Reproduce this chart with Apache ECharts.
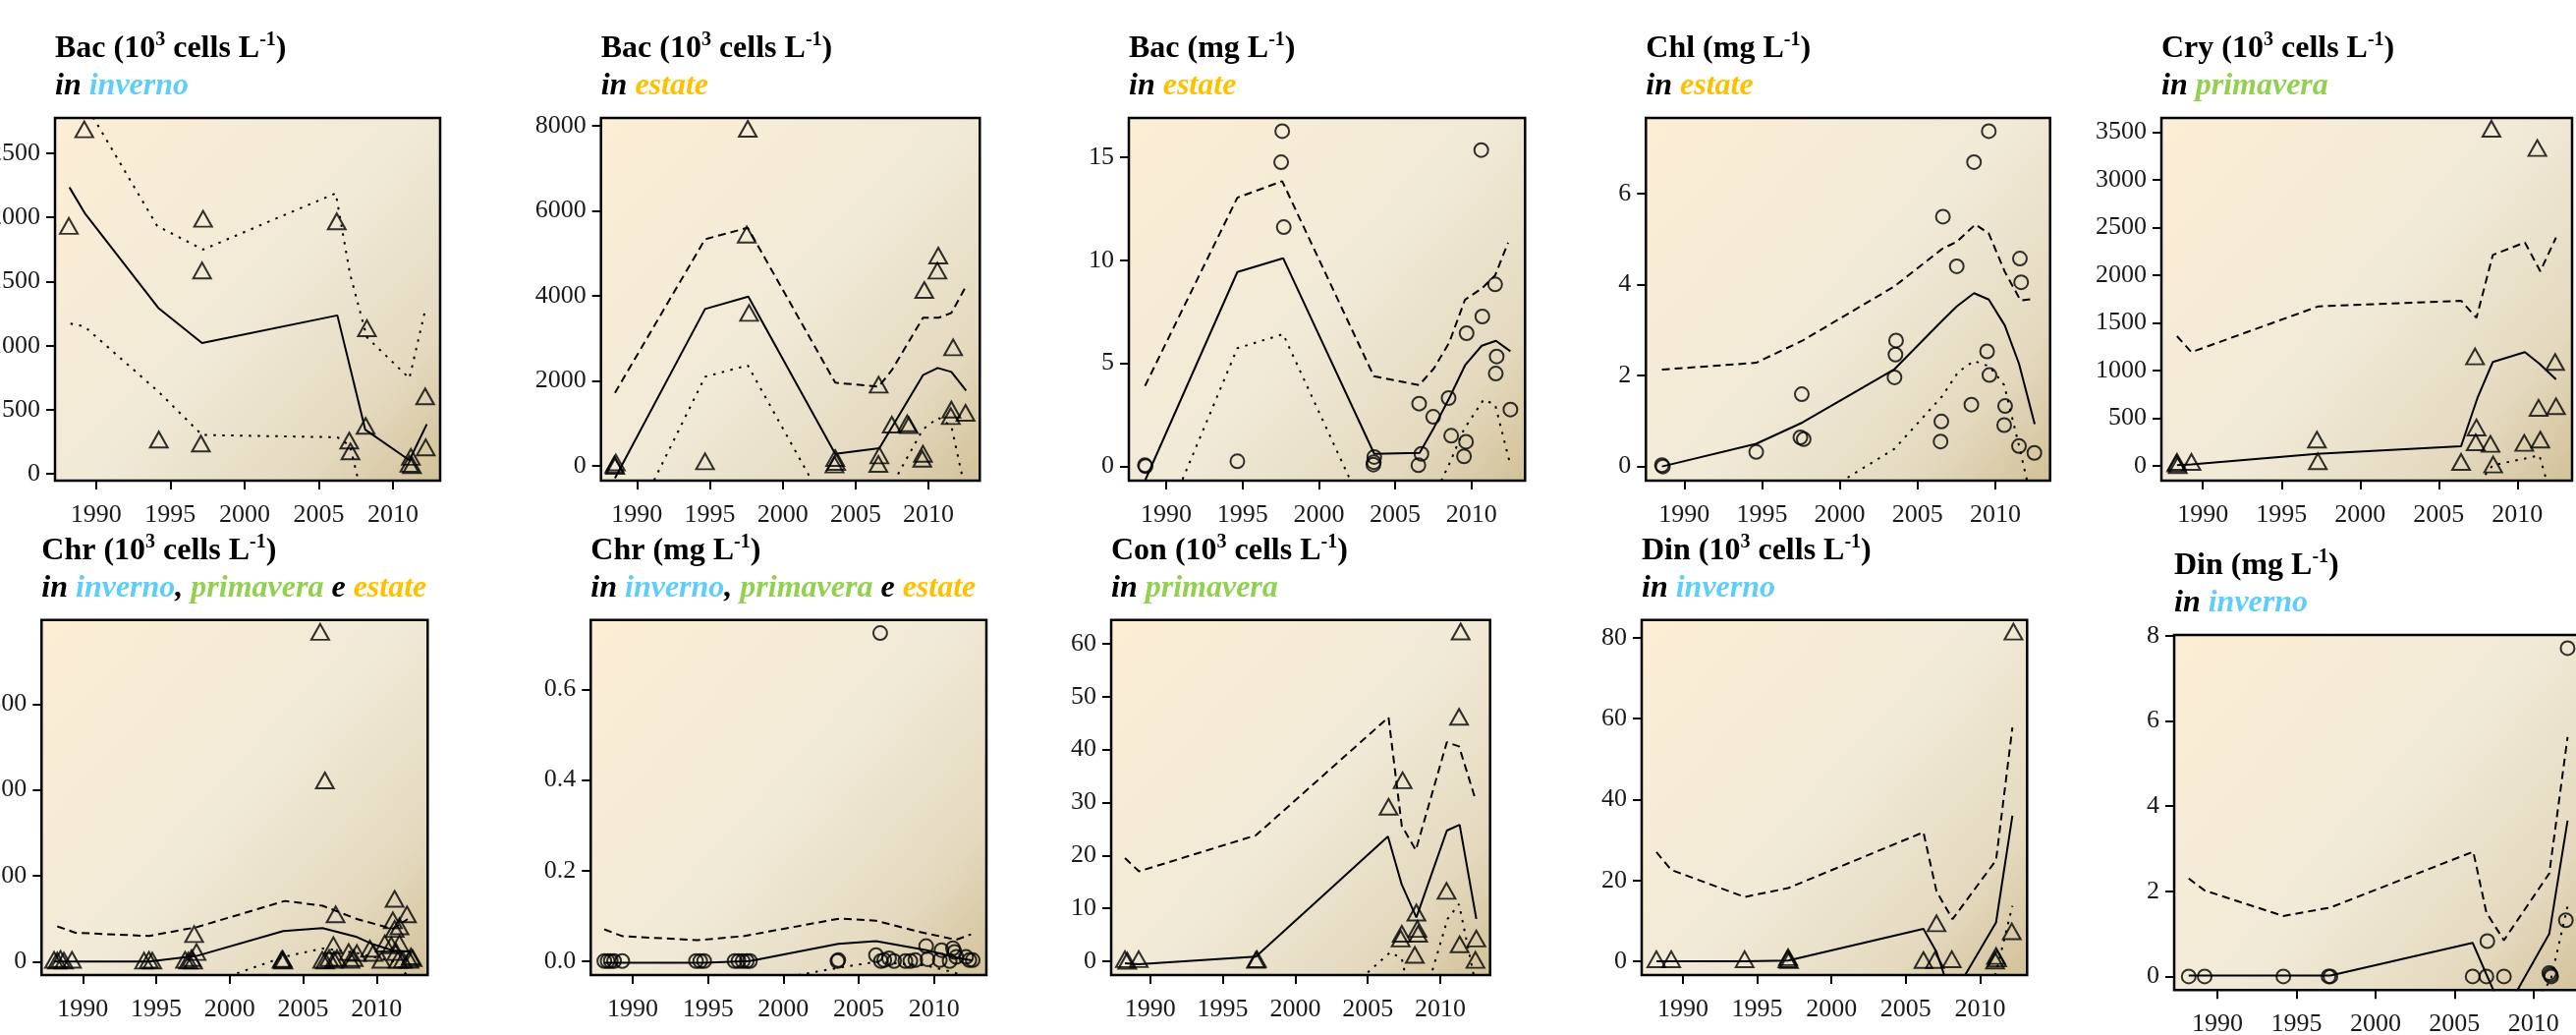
<!DOCTYPE html>
<html lang="it">
<head>
<meta charset="UTF-8">
<title>Serie storiche fitoplancton</title>
<script src="https://cdn.jsdelivr.net/npm/echarts@6.0.0/dist/echarts.min.js"></script>
<style>
html, body { margin: 0; padding: 0; background: #fff; }
#grafico { position: absolute; left: 0; top: 0; width: 2622px; height: 1053px; }
</style>
</head>
<body>
<div id="grafico"></div>
<script>
// anni sull'asse x (uguali per tutti i pannelli)
var anniTick = [1990, 1995, 2000, 2005, 2010];

// 1 - Bac (10^3 cells L-1) in inverno
var bacInvPunti = [[1988.17,1933],[1989.21,2686],[1994.23,268],[1997.21,1989],[1997.14,1586],[1997.06,237],[2006.21,1969],[2007.05,260],[2007.13,176],[2008.24,1136],[2008.15,375],[2011.1,79],[2011.2,133],[2011.27,69],[2012.16,605],[2012.2,207]];
var bacInvFit = [[1988.21,2234],[1989.23,2035],[1994.19,1295],[1997.14,1021],[2006.25,1236],[2008.13,345],[2011.1,107],[2012.27,388]];
var bacInvSup = [[1988.2,3150],[1989.2,2900],[1994.12,1933],[1997.21,1749],[2006.14,2188],[2007.1,1560],[2008.24,1065],[2011.1,746],[2012.2,1295]];
var bacInvInf = [[1988.28,1172],[1989.23,1149],[1994.19,643],[1997.14,304],[2006.25,286],[2007.1,220],[2008.2,-310],[2011.1,-600],[2012.2,-400]];
var bacInvTick = [0, 500, 1000, 1500, 2000, 2500];

// 2 - Bac (10^3 cells L-1) in estate
var bacEstPunti = [[1988.45,30],[1988.55,80],[1988.5,0],[1994.67,108],[1997.6,7923],[1997.53,5436],[1997.69,3596],[2003.6,185],[2003.66,92],[2003.55,31],[2006.58,1910],[2006.63,246],[2006.56,46],[2007.48,970],[2008.54,1001],[2008.65,955],[2009.71,4135],[2009.62,285],[2009.57,169],[2010.67,4943],[2010.61,4589],[2011.69,2787],[2011.57,1324],[2011.53,1170],[2012.54,1247]];
var bacEstFit = [[1988.49,-290],[1994.67,3688],[1997.64,3981],[2003.6,285],[2006.63,416],[2009.62,2133],[2010.63,2302],[2011.57,2210],[2012.58,1771]];
var bacEstSup = [[1988.49,1717],[1994.67,5328],[1997.6,5598],[2003.6,1956],[2006.58,1863],[2007.48,2248],[2009.62,3480],[2010.67,3480],[2011.57,3596],[2012.52,4189]];
var bacEstInf = [[1988.49,-2202],[1994.67,2094],[1997.6,2364],[2003.6,-1332],[2006.63,-985],[2009.62,862],[2010.67,1132],[2011.57,939],[2012.54,-600]];
var bacEstTick = [0, 2000, 4000, 6000, 8000];

// 3 - Bac (mg L-1) in estate
var bacMgPunti = [[1988.6,0.05],[1988.65,0],[1994.66,0.24],[1997.6,16.27],[1997.53,14.76],[1997.7,11.61],[2003.63,0.45],[2003.57,0.08],[2003.6,0.2],[2006.57,3.04],[2006.72,0.6],[2006.52,0.05],[2007.49,2.4],[2008.5,3.31],[2008.67,1.48],[2009.68,6.46],[2009.64,1.19],[2009.51,0.48],[2010.64,15.35],[2010.71,7.27],[2011.55,8.83],[2011.65,5.33],[2011.59,4.5],[2012.55,2.75]];
var bacMgFit = [[1988.61,-0.7],[1994.66,9.43],[1997.66,10.1],[2003.63,0.6],[2006.6,0.65],[2007.49,1.8],[2008.6,3.39],[2009.6,4.93],[2010.67,5.85],[2011.6,6.09],[2012.55,5.58]];
var bacMgSup = [[1988.61,3.9],[1994.66,13.04],[1997.6,13.84],[2003.6,4.37],[2006.57,3.94],[2007.53,4.74],[2008.54,6.0],[2009.57,8.08],[2010.69,8.64],[2011.55,9.27],[2012.4,10.86]];
var bacMgInf = [[1988.61,-5.0],[1994.66,5.73],[1997.66,6.41],[2003.63,-3.2],[2006.6,-2.93],[2008.6,0.2],[2009.51,1.8],[2010.79,3.23],[2011.55,2.99],[2012.55,0.05]];
var bacMgTick = [0, 5, 10, 15];

// 4 - Chl (mg L-1) in estate
var chlPunti = [[1988.57,0.03],[1988.63,0],[1994.63,0.32],[1997.56,1.59],[1997.47,0.64],[1997.68,0.6],[2003.62,2.77],[2003.58,2.46],[2003.52,1.96],[2006.63,5.49],[2006.53,0.99],[2006.48,0.55],[2007.52,4.4],[2008.63,6.69],[2008.46,1.36],[2009.58,7.37],[2009.47,2.53],[2009.62,2.01],[2010.63,1.33],[2010.57,0.91],[2011.58,4.57],[2011.66,4.05],[2011.52,0.45],[2012.51,0.3]];
var chlFit = [[1988.57,0],[1994.63,0.5],[1997.62,0.97],[2003.52,2.14],[2006.57,3.2],[2007.52,3.52],[2008.63,3.81],[2009.58,3.67],[2010.61,3.1],[2011.52,2.26],[2012.53,0.93]];
var chlSup = [[1988.57,2.13],[1994.63,2.28],[1997.62,2.77],[2003.52,3.96],[2006.57,4.78],[2007.52,4.94],[2008.72,5.32],[2009.58,5.12],[2010.61,4.28],[2011.62,3.65],[2012.42,3.68]];
var chlInf = [[1988.57,-2.5],[1994.63,-1.4],[1997.62,-0.85],[2003.52,0.39],[2006.57,1.54],[2007.62,2.08],[2008.63,2.32],[2009.62,2.2],[2010.57,1.79],[2011.52,0.46],[2012.5,-1.0]];
var chlTick = [0, 2, 4, 6];

// 5 - Cry (10^3 cells L-1) in primavera
var cryPunti = [[1988.31,24],[1988.4,7],[1988.35,41],[1989.27,41],[1997.25,275],[1997.31,48],[2006.42,41],[2007.31,1147],[2007.4,402],[2007.35,247],[2008.35,3534],[2008.29,230],[2008.46,14],[2010.44,240],[2011.27,3331],[2011.35,608],[2011.46,275],[2012.4,1089],[2012.46,625]];
var cryFit = [[1988.35,7],[1989.27,14],[1997.25,127],[2006.42,206],[2007.46,711],[2008.44,1089],[2010.48,1192],[2011.4,1071],[2012.46,907]];
var crySup = [[1988.35,1360],[1989.27,1192],[1997.35,1672],[2006.42,1731],[2007.4,1552],[2008.44,2211],[2010.48,2342],[2011.46,2040],[2012.46,2393]];
var cryInf = [[1988.35,-1300],[1989.27,-1250],[1997.25,-1100],[2006.42,-700],[2007.46,-200],[2008.44,7],[2010.48,76],[2011.4,110],[2012.46,-500]];
var cryTick = [0, 500, 1000, 1500, 2000, 2500, 3000, 3500];

// 6 - Chr (10^3 cells L-1) in inverno, primavera e estate
var chrPunti = [[1988.04,2],[1988.26,1],[1988.48,3],[1988.71,1],[1989.26,2],[1994.17,1],[1994.5,2],[1994.73,1],[1996.96,2],[1997.18,1],[1997.4,4],[1997.51,1],[1997.74,11],[1997.58,32],[2003.53,2],[2003.6,3],[2003.65,1],[2006.16,384],[2006.48,211],[2006.3,2],[2006.5,1],[2006.77,4],[2007.21,55],[2007.06,19],[2007.1,2],[2007.3,4],[2008.1,11],[2008.22,2],[2008.44,4],[2008.66,10],[2009.55,15],[2009.78,10],[2010.33,2],[2010.56,21],[2011.23,73],[2011.11,48],[2011.23,38],[2011.56,41],[2011.0,19],[2011.34,11],[2011.56,21],[2011.78,2],[2011.45,2],[2012.07,55],[2012.34,6],[2012.45,4],[2012.23,2]];
var chrFit = [[1988.04,0],[1994.5,0],[1997.74,6.5],[2003.65,35.5],[2006.32,39],[2008.66,28.6],[2009.78,20],[2011.11,13],[2012.34,11.5]];
var chrSup = [[1988.26,41],[1989.49,33.6],[1994.5,29.8],[1997.74,40],[2003.76,70.6],[2006.32,65],[2008.66,49.6],[2011.11,38],[2012.12,49.6]];
var chrInf = [[1988.04,-40],[1997.74,-30],[2003.76,5.7],[2006.32,15.3],[2008.66,10],[2011.11,0],[2012.34,-20]];
var chrTick = [0, 100, 200, 300];

// 7 - Chr (mg L-1) in inverno, primavera e estate
var chrMgPunti = [[1988.11,0],[1988.33,0],[1988.54,0],[1988.76,0],[1989.3,0],[1994.2,0],[1994.48,0],[1994.74,0],[1996.76,0],[1997.02,0],[1997.3,0],[1997.57,0],[1997.78,0],[2003.59,0],[2003.65,0.002],[2006.43,0.725],[2006.15,0.013],[2006.48,0],[2006.7,0.002],[2007.02,0.006],[2007.35,0],[2008.1,0],[2008.43,0],[2008.76,0.002],[2009.48,0.033],[2009.57,0.004],[2010.5,0.024],[2010.39,0.002],[2011.26,0.028],[2011.37,0.02],[2011.04,0],[2011.48,0.009],[2012.13,0.009],[2012.35,0.002],[2012.57,0.002]];
var chrMgFit = [[1988.11,-0.004],[1994.74,-0.004],[1997.78,0],[2003.65,0.038],[2006.15,0.044],[2009.52,0.024],[2011.26,0.009],[2012.57,0.001]];
var chrMgSup = [[1988.11,0.07],[1989.3,0.055],[1994.3,0.046],[1997.35,0.055],[2003.76,0.094],[2006.15,0.089],[2009.09,0.064],[2011.48,0.047],[2012.46,0.059]];
var chrMgInf = [[1988.11,-0.06],[1997.78,-0.05],[2003.65,-0.015],[2006.15,-0.002],[2009.5,-0.01],[2011.3,-0.025],[2012.57,-0.04]];
var chrMgTick = [0, 0.2, 0.4, 0.6];

// 8 - Con (10^3 cells L-1) in primavera
var conPunti = [[1988.26,0.4],[1988.42,0.1],[1989.21,0.4],[1997.29,0.25],[1997.36,0.4],[2006.43,29.2],[2007.4,34.2],[2007.34,5.2],[2007.27,4.3],[2008.35,9.2],[2008.42,6.1],[2008.47,5.2],[2008.24,1.2],[2010.43,13.3],[2011.4,62.3],[2011.29,46.2],[2011.33,3.2],[2012.48,4.3],[2012.42,0.25]];
var conFit = [[1988.26,-0.37],[1989.21,-0.56],[1997.29,0.87],[2006.39,23.6],[2007.34,14.5],[2008.35,8.3],[2010.45,24.7],[2011.33,25.8],[2012.48,8.0]];
var conSup = [[1988.26,19.5],[1989.23,17.0],[1997.29,23.8],[2006.43,46.1],[2007.34,25.6],[2008.31,21.0],[2010.45,41.4],[2011.29,40.6],[2012.42,30.6]];
var conInf = [[1988.26,-35],[1989.21,-33],[1997.29,-21],[2006.55,1.7],[2007.34,0.56],[2008.35,-12],[2010.5,8.0],[2011.29,10.8],[2012.48,-5]];
var conTick = [0, 10, 20, 30, 40, 50, 60];

// 9 - Din (10^3 cells L-1) in inverno
var dinPunti = [[1988.21,0.5],[1989.21,0.5],[1994.15,0.5],[1997.08,1.0],[1997.14,0.3],[1997.03,0.5],[2006.19,0.3],[2007.07,9.4],[2006.96,0.3],[2008.1,0.5],[2011.08,1.3],[2011.15,0.7],[2011.01,0.2],[2012.25,81.5],[2012.14,7.4]];
var dinFit = [[1988.21,0],[1989.21,0],[1994.15,0],[1997.08,0.2],[2006.19,8.0],[2007.07,2.3],[2008.1,-9],[2011.08,9.6],[2012.18,36.0]];
var dinSup = [[1988.21,27],[1989.21,22.6],[1994.15,15.9],[1997.08,18.1],[2006.19,31.9],[2007.07,17.3],[2008.15,10.4],[2011.08,25.0],[2012.18,57.8]];
var dinInf = [[1988.21,-30],[1989.21,-25],[1994.15,-18],[1997.08,-18],[2006.19,-16],[2007.07,-14],[2008.1,-25],[2011.08,-2.8],[2012.18,13.7]];
var dinTick = [0, 20, 40, 60, 80];

// 10 - Din (mg L-1) in inverno
var dinMgPunti = [[1988.18,0],[1989.19,0],[1994.17,0],[1997.03,0],[1997.15,0],[2006.15,0],[2007.02,0],[2007.08,0.83],[2008.13,0],[2011.08,0.04],[2011.12,0],[2011.0,0.08],[2012.16,7.71],[2012.05,1.32]];
var dinMgFit = [[1988.18,0.02],[1989.19,0.02],[1994.17,0.02],[1997.15,0.02],[2006.15,0.79],[2007.02,0.05],[2008.13,-0.88],[2011.0,1.0],[2012.16,3.66]];
var dinMgSup = [[1988.18,2.3],[1989.19,2.02],[1994.17,1.42],[1997.15,1.62],[2006.19,2.93],[2007.02,1.5],[2008.13,0.85],[2011.0,2.42],[2012.16,5.62]];
var dinMgInf = [[1988.18,-1.0],[1989.19,-0.9],[1994.17,-0.8],[1997.15,-0.8],[2006.15,-0.8],[2007.02,-1.0],[2008.13,-1.5],[2011.08,-0.1],[2012.16,1.65]];
var dinMgTick = [0, 2, 4, 6, 8];

// titoli
var cellule = ' (10}{s|3}{b| cells L}{s|-1}{b|)}';
var mg = ' (mg L}{s|-1}{b|)}';
var inverno = '{bi|in }{w|inverno}';
var estate = '{bi|in }{e|estate}';
var primavera = '{bi|in }{p|primavera}';
var tutte = '{bi|in }{w|inverno}{bi|, }{p|primavera}{bi| e }{e|estate}';

var font = 'Liberation Serif';
var ricco = {
    b: {fontFamily: font, fontWeight: 'bold', fontSize: 32, color: '#000', lineHeight: 38},
    s: {fontFamily: font, fontWeight: 'bold', fontSize: 20, color: '#000', lineHeight: 24, verticalAlign: 'top'},
    bi: {fontFamily: font, fontWeight: 'bold', fontStyle: 'italic', fontSize: 32, color: '#000', lineHeight: 38},
    w: {fontFamily: font, fontStyle: 'italic', fontSize: 32, color: '#5DCDF9', lineHeight: 38},
    e: {fontFamily: font, fontStyle: 'italic', fontSize: 32, color: '#FFC000', lineHeight: 38},
    p: {fontFamily: font, fontStyle: 'italic', fontSize: 32, color: '#92D050', lineHeight: 38}
};

var pannelli = [
    {x: 56, y: 120, w: 392, h: 369, x0: 1987.24, x1: 2013.17, y0: -52, y1: 2775, tit: '{b|Bac' + cellule, sot: inverno, sim: 'triangle', punti: bacInvPunti, fit: bacInvFit, sup: bacInvSup, inf: bacInvInf, tick: bacInvTick, supPunt: true},
    {x: 611.7, y: 120, w: 385.6, h: 369, x0: 1987.53, x1: 2013.52, y0: -346, y1: 8178, tit: '{b|Bac' + cellule, sot: estate, sim: 'triangle', punti: bacEstPunti, fit: bacEstFit, sup: bacEstSup, inf: bacEstInf, tick: bacEstTick},
    {x: 1149, y: 120, w: 403.3, h: 369, x0: 1987.55, x1: 2013.51, y0: -0.70, y1: 16.91, tit: '{b|Bac' + mg, sot: estate, sim: 'circle', punti: bacMgPunti, fit: bacMgFit, sup: bacMgSup, inf: bacMgInf, tick: bacMgTick},
    {x: 1675.3, y: 120, w: 411.4, h: 369, x0: 1987.54, x1: 2013.52, y0: -0.31, y1: 7.66, tit: '{b|Chl' + mg, sot: estate, sim: 'circle', punti: chlPunti, fit: chlFit, sup: chlSup, inf: chlInf, tick: chlTick},
    {x: 2200, y: 120, w: 418, h: 369, x0: 1987.36, x1: 2013.48, y0: -155, y1: 3647, tit: '{b|Cry' + cellule, sot: primavera, sim: 'triangle', punti: cryPunti, fit: cryFit, sup: crySup, inf: cryInf, tick: cryTick},
    {x: 42.3, y: 630.7, w: 393, h: 361.3, x0: 1987.19, x1: 2013.48, y0: -15.7, y1: 398, tit: '{b|Chr' + cellule, sot: tutte, sim: 'triangle', punti: chrPunti, fit: chrFit, sup: chrSup, inf: chrInf, tick: chrTick},
    {x: 601.3, y: 630.7, w: 402.7, h: 361.3, x0: 1987.21, x1: 2013.48, y0: -0.031, y1: 0.754, tit: '{b|Chr' + mg, sot: tutte, sim: 'circle', punti: chrMgPunti, fit: chrMgFit, sup: chrMgSup, inf: chrMgInf, tick: chrMgTick, dec: 1},
    {x: 1131, y: 630.7, w: 385.7, h: 361.3, x0: 1987.31, x1: 2013.43, y0: -2.6, y1: 64.5, tit: '{b|Con' + cellule, sot: primavera, sim: 'triangle', punti: conPunti, fit: conFit, sup: conSup, inf: conInf, tick: conTick},
    {x: 1671, y: 630.7, w: 392.3, h: 361.3, x0: 1987.22, x1: 2013.17, y0: -3.4, y1: 84.4, tit: '{b|Din' + cellule, sot: inverno, sim: 'triangle', punti: dinPunti, fit: dinFit, sup: dinSup, inf: dinInf, tick: dinTick},
    {x: 2213, y: 646, w: 422, h: 361.3, x0: 1987.26, x1: 2013.5, y0: -0.32, y1: 8.02, tit: '{b|Din' + mg, sot: inverno, sim: 'circle', punti: dinMgPunti, fit: dinMgFit, sup: dinMgSup, inf: dinMgInf, tick: dinMgTick}
];

var sfondo = new echarts.graphic.LinearGradient(0, 0, 1, 1, [
    {offset: 0, color: '#FDEED5'},
    {offset: 0.5, color: '#F1EAD7'},
    {offset: 0.8, color: '#E5DAC0'},
    {offset: 1, color: '#D2C198'}
]);

var myChart = echarts.init(document.getElementById('grafico'));

var option = {
    backgroundColor: '#fff',
    animation: false,
    title: [],
    grid: [],
    xAxis: [],
    yAxis: [],
    series: []
};

pannelli.forEach(function (p, i) {
    // titolo a due righe sopra il riquadro
    option.title.push({left: p.x, top: p.y - 89, padding: 0, text: p.tit, textStyle: {rich: ricco}});
    option.title.push({left: p.x, top: p.y - 51, padding: 0, text: p.sot, textStyle: {rich: ricco}});

    option.grid.push({
        left: p.x, top: p.y, width: p.w, height: p.h,
        containLabel: false, outerBoundsMode: 'none',
        show: true, backgroundColor: sfondo, borderColor: '#000', borderWidth: 2.5
    });
    option.xAxis.push({
        type: 'value', gridIndex: i, min: p.x0, max: p.x1,
        splitLine: {show: false},
        axisLine: {show: false, onZero: false},
        axisTick: {show: true, length: 9, customValues: anniTick, lineStyle: {color: '#000', width: 2}},
        axisLabel: {
            customValues: anniTick, margin: 22, fontFamily: font, fontSize: 26, color: '#1a1a1a',
            formatter: function (v) { return String(v); }
        }
    });
    option.yAxis.push({
        type: 'value', gridIndex: i, min: p.y0, max: p.y1,
        splitLine: {show: false},
        axisLine: {show: false, onZero: false},
        axisTick: {show: true, length: 9, customValues: p.tick, lineStyle: {color: '#000', width: 2}},
        axisLabel: {
            customValues: p.tick, margin: 15, fontFamily: font, fontSize: 26, color: '#1a1a1a',
            formatter: function (v) { return p.dec ? v.toFixed(p.dec) : String(v); }
        }
    });

    option.series.push({
        type: 'line', xAxisIndex: i, yAxisIndex: i, data: p.fit, symbol: 'none', silent: true,
        lineStyle: {color: '#000', width: 2}
    });
    option.series.push({
        type: 'line', xAxisIndex: i, yAxisIndex: i, data: p.sup, symbol: 'none', silent: true,
        lineStyle: {color: '#000', width: 2, type: p.supPunt ? [2.5, 6.5] : [8, 5]}
    });
    option.series.push({
        type: 'line', xAxisIndex: i, yAxisIndex: i, data: p.inf, symbol: 'none', silent: true,
        lineStyle: {color: '#000', width: 2, type: [2.5, 6.5]}
    });
    option.series.push({
        type: 'scatter', xAxisIndex: i, yAxisIndex: i, data: p.punti, silent: true,
        symbol: p.sim, symbolSize: p.sim === 'triangle' ? [18, 16] : 14,
        itemStyle: {color: 'rgba(0,0,0,0)', borderColor: '#000', borderWidth: 2}
    });
});

myChart.setOption(option);
</script>
</body>
</html>
